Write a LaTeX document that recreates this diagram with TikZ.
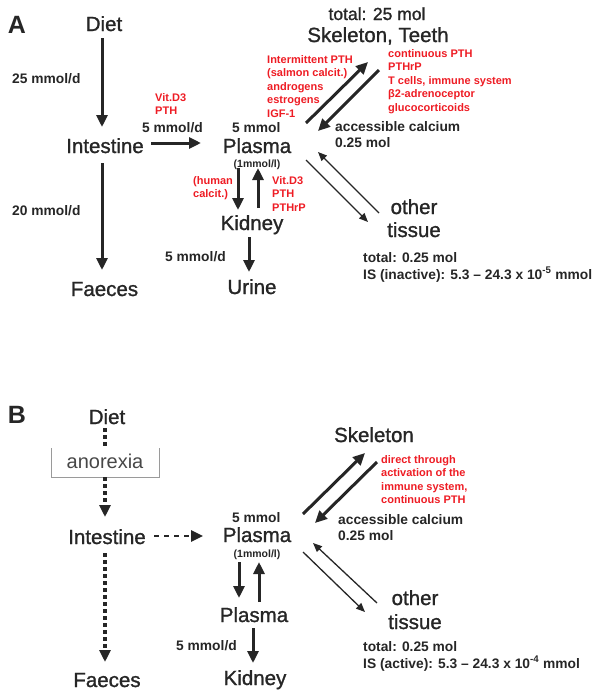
\documentclass[tikz,border=0pt]{standalone}
\usepackage{fontspec}
\setmainfont{Liberation Sans}
\newfontfamily\heavyfont[FakeBold=1.2]{Liberation Sans}
\usetikzlibrary{arrows.meta,calc}
\definecolor{ink}{HTML}{262626}
\definecolor{redt}{HTML}{EE1C24}
\definecolor{boxgray}{HTML}{9A9A9A}
\begin{document}
\begin{tikzpicture}[x=1pt,y=-1pt,
  big/.style={font=\heavyfont\fontsize{20.5}{24}\selectfont, text=ink, inner sep=0pt, anchor=base},
  panel/.style={font=\bfseries\fontsize{25}{28}\selectfont, text=ink, inner sep=0pt, anchor=base},
  lbl/.style={font=\bfseries\fontsize{13.8}{16}\selectfont, text=ink, inner sep=0pt, anchor=base west},
  lbltwo/.style={font=\bfseries\fontsize{13.8}{16}\selectfont, text=ink, inner sep=0pt, anchor=north west, align=left},
  lbltot/.style={font=\bfseries\fontsize{13.8}{17}\selectfont, text=ink, inner sep=0pt, anchor=north west, align=left},
  conc/.style={font=\bfseries\fontsize{10.5}{12}\selectfont, text=ink, inner sep=0pt, anchor=base},
  redl/.style={font=\bfseries\fontsize{11}{13.5}\selectfont, text=redt, inner sep=0pt, anchor=north west, align=left},
  arr/.style={draw=ink, line width=3pt, -{Triangle[length=12pt,width=11pt]}},
  thinarr/.style={draw=ink, line width=1.3pt, -{Triangle[length=9pt,width=7.5pt]}},
  dotline/.style={draw=ink, line width=3.2pt, dash pattern=on 3.5pt off 3.5pt},
  dotarr/.style={dotline, -{Triangle[length=12pt,width=11pt]}},
  dasharr/.style={draw=ink, line width=2.6pt, dash pattern=on 5pt off 5pt, -{Triangle[length=12pt,width=11pt]}},
  boxline/.style={draw=boxgray, line width=0.8pt}
]
\useasboundingbox (0,0) rectangle (602,697);

% ---------------- Panel A ----------------
\node[panel] (labA) at (17,33) {A};
\node[big] (dA) at (104,31) {Diet};
\node[big] (iA) at (105,153) {Intestine};
\node[big] (fA) at (104.5,296) {Faeces};
\node[big] (pA) at (257,153) {Plasma};
\node[big] (kA) at (252,230) {Kidney};
\node[big] (uA) at (252,294) {Urine};
\node[big] (sA) at (378,42) {Skeleton, Teeth};
\node[big] (oA) at (414,214) {other};
\node[big] (tA) at (414,237) {tissue};
\node[font=\heavyfont\fontsize{17.5}{20}\selectfont, text=ink, inner sep=0pt, anchor=base] (totA) at (377,20) {total: 25 mol};

\node[lbl] (fluxdA) at (12,83) {25 mmol/d};
\node[lbl] (fluxfA) at (12,215) {20 mmol/d};
\node[lbl] (fluxiA) at (142,132) {5 mmol/d};
\node[lbl] (mmolA) at (232,132) {5 mmol};
\node[conc] (concA) at (257,167) {(1mmol/l)};
\node[lbl] (fluxuA) at (165,261) {5 mmol/d};
\node[lbltwo] (accA) at (335,121) {accessible calcium\\0.25 mol};
\node[lbltot] (totoA) at (363,252) {total: 0.25 mol\\IS (inactive): 5.3 – 24.3 x 10\textsuperscript{-5} mmol};

\node[redl] (rintA) at (155,93) {Vit.D3\\PTH};
\node[redl] (rformA) at (267,55) {Intermittent PTH\\(salmon calcit.)\\androgens\\estrogens\\IGF-1};
\node[redl] (rresA) at (388,49) {continuous PTH\\PTHrP\\T cells, immune system\\β2-adrenoceptor\\glucocorticoids};
\node[redl] (rhumA) at (193,176) {(human\\calcit.)};
\node[redl] (rkidA) at (272,176) {Vit.D3\\PTH\\PTHrP};

\draw[arr] ($(dA.base)+(-2,7)$) -- ($(iA.base)+(-3,-26)$);
\draw[arr] ($(iA.base)+(-3,10)$) -- ($(fA.base)+(-2.5,-26)$);
\draw[arr] ($(iA.base)+(46,-10)$) -- ($(pA.base)+(-56,-10)$);
\draw[arr] ($(pA.base)+(-19,15)$) -- ($(kA.base)+(-14,-20)$);
\draw[arr] ($(kA.base)+(6,-22)$) -- ($(pA.base)+(1,15)$);
\draw[arr] ($(kA.base)+(-3,7)$) -- ($(uA.base)+(-3,-22)$);
\draw[arr] ($(pA.base)+(49,-30)$) -- ($(sA.base)+(-10,20)$);
\draw[arr] ($(sA.base)+(1,28)$) -- ($(pA.base)+(61,-22)$);
\draw[thinarr] ($(pA.base)+(49,7)$) -- ($(oA.base)+(-46,8)$);
\draw[thinarr] ($(oA.base)+(-35,-1)$) -- ($(pA.base)+(61,-1)$);

% ---------------- Panel B ----------------
\node[panel] (labB) at (17,423) {B};
\node[big] (dB) at (107,424) {Diet};
\node[font=\fontsize{20}{24}\selectfont, text=ink!85, inner sep=0pt, anchor=base] (ax) at (105,468) {anorexia};
\node[big] (iB) at (107,544) {Intestine};
\node[big] (fB) at (107,687) {Faeces};
\node[big] (pB) at (257,542) {Plasma};
\node[big] (p2B) at (254,622) {Plasma};
\node[big] (kB) at (255,685) {Kidney};
\node[big] (skB) at (374,442) {Skeleton};
\node[big] (oB) at (415,605) {other};
\node[big] (tB) at (415,629) {tissue};

\node[lbl] (mmolB) at (232,522) {5 mmol};
\node[conc] (concB) at (257,557) {(1mmol/l)};
\node[lbl] (fluxB) at (176,650) {5 mmol/d};
\node[lbltwo] (accB) at (338,514) {accessible calcium\\0.25 mol};
\node[lbltot] (totoB) at (363,641) {total: 0.25 mol\\IS (active): 5.3 – 24.3 x 10\textsuperscript{-4} mmol};
\node[redl] (rresB) at (381,455) {direct through\\activation of the\\immune system,\\continuous PTH};

\draw[boxline] ($(ax.base)+(-54,-20)$) -- ($(ax.base)+(-54,9)$) -- ($(ax.base)+(54,9)$) -- ($(ax.base)+(54,-20)$);
\draw[dotline] ($(dB.base)+(-2,4)$) -- ($(ax.base)+(0,-20)$);
\draw[dotarr] ($(ax.base)+(0,9)$) -- ($(iB.base)+(-2,-27)$);
\draw[dotarr] ($(iB.base)+(-2,9)$) -- ($(fB.base)+(-2,-25)$);
\draw[dasharr] ($(iB.base)+(47,-8)$) -- ($(pB.base)+(-54,-6)$);
\draw[arr] ($(pB.base)+(-18,20)$) -- ($(p2B.base)+(-15,-24)$);
\draw[arr] ($(p2B.base)+(5,-20)$) -- ($(pB.base)+(2,20)$);
\draw[arr] ($(p2B.base)+(-1,6)$) -- ($(kB.base)+(-2,-22)$);
\draw[arr] ($(pB.base)+(46,-28)$) -- ($(skB.base)+(-9,11)$);
\draw[arr] ($(skB.base)+(3,20)$) -- ($(pB.base)+(58,-19)$);
\draw[thinarr] ($(oB.base)+(-38,-2)$) -- ($(pB.base)+(56,1)$);
\draw[thinarr] ($(pB.base)+(46,10)$) -- ($(oB.base)+(-50,7)$);
\end{tikzpicture}
\end{document}
